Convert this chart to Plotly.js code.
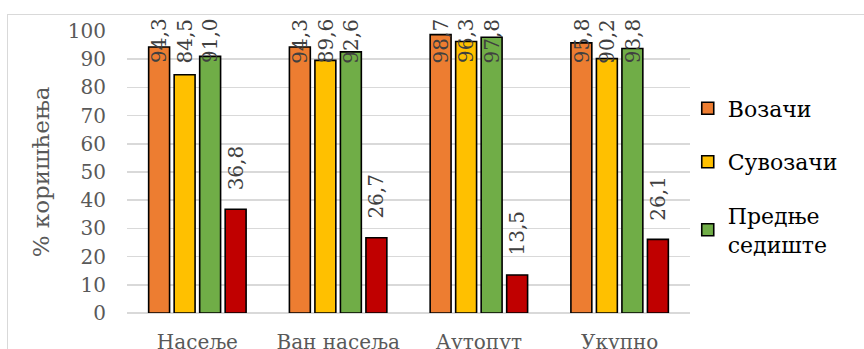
<!DOCTYPE html>
<html><head><meta charset="utf-8">
<script src="https://cdn.plot.ly/plotly-3.0.1.min.js"></script>
<style>
html,body{margin:0;padding:0;background:#fff;overflow:hidden;width:864px;height:349px}
#chart{position:absolute;left:0;top:0;width:864px;height:349px}
#frame{position:absolute;left:7px;top:14px;width:860px;height:400px;border:1px solid #d9d9d9;box-sizing:border-box;pointer-events:none}
</style></head><body>
<div id="chart"></div><div id="frame"></div>
<script>
const categories = ['Насеље', 'Ван насеља', 'Аутопут', 'Укупно'];
const seriesNames = ['Возачи', 'Сувозачи', 'Предње<br>седиште', 'Задње седиште'];
const vozaci = [94.3, 94.3, 98.7, 95.8];
const suvozaci = [84.5, 89.6, 96.3, 90.2];
const prednjeSediste = [91.0, 92.6, 97.8, 93.8];
const zadnjeSediste = [36.8, 26.7, 13.5, 26.1];
const yTickValues = [0, 10, 20, 30, 40, 50, 60, 70, 80, 90, 100];

const seriesValues = [vozaci, suvozaci, prednjeSediste, zadnjeSediste];
const colors = ['#ED7D31', '#FFC000', '#70AD47', '#C00000'];
const inLegend = [true, true, true, false];
const FONT = 'DejaVu Serif, Liberation Serif, serif';
const bargap = 0.275, bargroupgap = 0.18;
const labelPadPx = 17;
const labelBaseCap = 81.8;

const traces = seriesValues.map((vals, j) => ({
  type: 'bar', x: categories, y: vals, name: seriesNames[j],
  legendgroup: 'g' + j, showlegend: inLegend[j],
  marker: {color: colors[j], line: {color: '#000', width: 1.6}},
  hoverinfo: 'skip'
}));

const nS = seriesValues.length;
const slot = (1 - bargap) / nS;
const annotations = [];
seriesValues.forEach((vals, j) => {
  vals.forEach((v, i) => {
    annotations.push({
      xref: 'x', yref: 'y', x: i + (j - (nS - 1) / 2) * slot, y: Math.min(v, labelBaseCap),
      yshift: labelPadPx, xanchor: 'center', yanchor: 'bottom',
      text: v.toFixed(1).replace('.', ','), textangle: -90, showarrow: false,
      font: {family: FONT, size: 20, color: '#404040'}
    });
  });
});

const layout = {
  width: 864, height: 349,
  margin: {l: 127, r: 174, t: 31, b: 36},
  paper_bgcolor: 'rgba(0,0,0,0)', plot_bgcolor: 'rgba(0,0,0,0)',
  barmode: 'group', bargap: bargap, bargroupgap: bargroupgap,
  font: {family: FONT, size: 20, color: '#595959'},
  xaxis: {type: 'category', showgrid: false, zeroline: false, showline: false,
    ticks: '', ticklabelstandoff: 15, tickfont: {family: FONT, size: 20, color: '#595959'}},
  yaxis: {range: [0, 100], tickvals: yTickValues, ticktext: yTickValues.map(String),
    showgrid: true, gridcolor: '#d9d9d9', gridwidth: 1.5, zeroline: true, zerolinecolor: '#d9d9d9', zerolinewidth: 1.5,
    showline: false, ticks: '', ticklabelstandoff: 20,
    tickfont: {family: FONT, size: 20, color: '#595959'},
    title: {text: '% коришћења', standoff: 11, font: {family: FONT, size: 23, color: '#595959'}}},
  legend: {x: 0.996, xanchor: 'left', y: 0.80, yanchor: 'top', traceorder: 'grouped', tracegroupgap: 22,
    font: {family: FONT, size: 22, color: '#000'}, bgcolor: 'rgba(0,0,0,0)'},
  annotations: annotations,
  showlegend: true
};

Plotly.newPlot('chart', traces, layout, {displayModeBar: false, staticPlot: true});
</script>
</body></html>
